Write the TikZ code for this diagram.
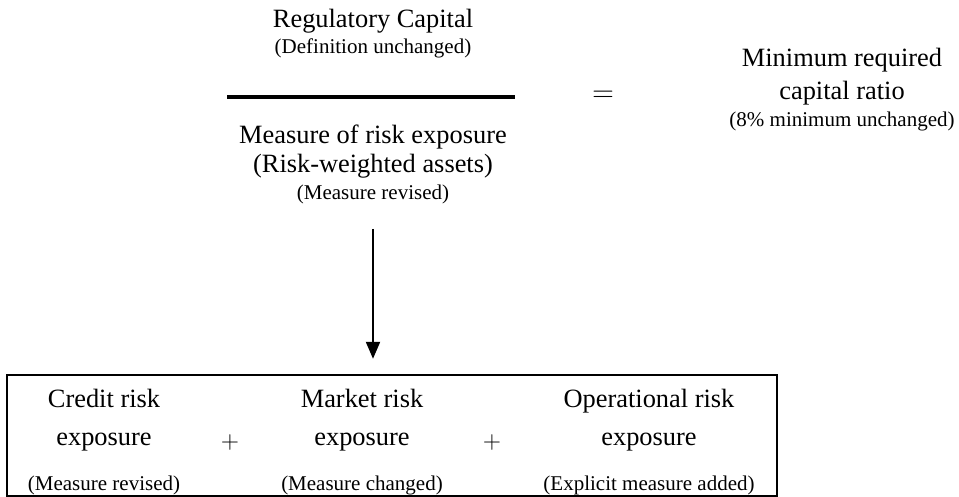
\documentclass[tikz,border=0pt]{standalone}
\usepackage{fontspec}
\setmainfont{Liberation Serif}
\usepackage{tikz}
\usetikzlibrary{positioning,arrows.meta}

\begin{document}
\begin{tikzpicture}[x=0.5pt,y=-0.5pt,>={Triangle[width=7pt,length=8.5pt]}]
  \tikzstyle{big}=[inner sep=0pt,anchor=base,font=\fontsize{13.2}{15}\selectfont]
  \tikzstyle{small}=[inner sep=0pt,anchor=base,font=\fontsize{10.5}{12}\selectfont]
  \useasboundingbox (0,0) rectangle (959,497);
  % ratio
  \node[big] (reg) at (373,28) {Regulatory Capital};
  \node[small] (defu) at (373,54) {(Definition unchanged)};
  \node[big] (mre) at (373,144) {Measure of risk exposure};
  \node[big] (rwa) at (373,173) {(Risk-weighted assets)};
  \node[small] (mrev) at (373,200) {(Measure revised)};
  \coordinate (barl) at (227,97);
  \coordinate (barr) at (515,97);
  \draw[line width=2pt] (barl)--(barr);
  \node[big,anchor=center,font=\fontsize{14}{15}\selectfont] (eq) at (603,96) {$=$};
  \node[big] (minr) at (842,67) {Minimum required};
  \node[big] (capr) at (842,100) {capital ratio};
  \node[small] (unch) at (842,127) {(8\% minimum unchanged)};
  % risk exposures
  \node[draw,line width=1.2pt,minimum width=385pt,minimum height=60.5pt,
    inner sep=0pt] (box) at (392,435.5) {};
  \node[big] (cred) at (104,408) {Credit risk};
  \node[big] (crede) at (104,445) {exposure};
  \node[small] (credm) at (104,490) {(Measure revised)};
  \node[big] (mkt) at (362,408) {Market risk};
  \node[big] (mkte) at (362,445) {exposure};
  \node[small] (mktm) at (362,490) {(Measure changed)};
  \node[big] (ops) at (649,408) {Operational risk};
  \node[big] (opse) at (649,445) {exposure};
  \node[small] (opsm) at (649,490) {(Explicit measure added)};
  \node[big,anchor=center] (plusa) at (230,442) {$+$};
  \node[big,anchor=center] (plusb) at (492,442) {$+$};
  \draw[->,line width=1pt,shorten <=12pt,shorten >=7.5pt]
    (mrev.south)--(mrev.south |- box.north);
\end{tikzpicture}
\end{document}
